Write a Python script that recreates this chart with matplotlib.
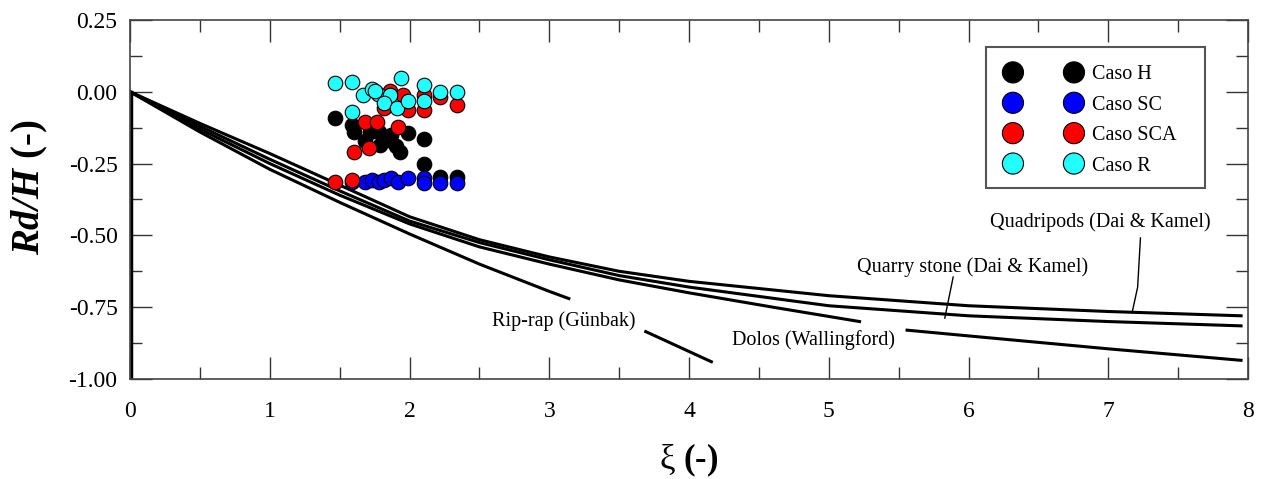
import numpy as np
import matplotlib
matplotlib.use('Agg')
from matplotlib import pyplot as plt
from matplotlib.patches import Rectangle
from matplotlib.ticker import MultipleLocator, FormatStrFormatter

plt.rcParams['font.family'] = ['Liberation Serif', 'DejaVu Serif']
plt.rcParams['mathtext.fontset'] = 'custom'
plt.rcParams['mathtext.rm'] = 'Liberation Serif'
plt.rcParams['mathtext.it'] = 'Liberation Serif:italic'
plt.rcParams['mathtext.bf'] = 'Liberation Serif:bold'
plt.rcParams['mathtext.bfit'] = 'Liberation Serif:italic:bold'

# curves; nan = gap in the drawn line
xi_quad = [0, 0.25, 0.5, 1, 1.5, 2, 2.5, 3, 3.5, 4, 5, 6, 7, 7.95]
rd_quad = [0, -0.055, -0.11, -0.215, -0.325, -0.435, -0.515, -0.575, -0.625, -0.66, -0.71, -0.745, -0.765, -0.78]
xi_quarry = [0, 0.25, 0.5, 1, 1.5, 2, 2.5, 3, 3.5, 4, 5, 6, 7, 7.95]
rd_quarry = [0, -0.06, -0.12, -0.235, -0.345, -0.45, -0.525, -0.585, -0.64, -0.68, -0.745, -0.78, -0.8, -0.815]
xi_dolos = [0, 0.25, 0.5, 1, 1.5, 2, 2.5, 3, 3.5, 4, 4.6, 5.22, 5.4, 5.56, 6, 7, 7.95]
rd_dolos = [0, -0.065, -0.13, -0.25, -0.36, -0.46, -0.54, -0.6, -0.655, -0.7, -0.75, -0.8, np.nan, -0.83, -0.85, -0.895, -0.935]
xi_rip = [0, 0.25, 0.5, 1, 1.5, 2, 2.5, 3, 3.14, 3.4, 3.69, 4.16]
rd_rip = [0, -0.07, -0.14, -0.27, -0.385, -0.495, -0.6, -0.695, -0.72, np.nan, -0.835, -0.94]

# measured points
h_x = [1.47, 1.59, 1.60, 1.72, 1.78, 1.87, 1.99, 2.10, 1.68, 1.79, 1.84, 1.90, 1.93, 2.10, 2.22, 2.34]
h_y = [-0.092, -0.116, -0.139, -0.139, -0.139, -0.150, -0.145, -0.165, -0.171, -0.185, -0.168, -0.188, -0.208, -0.253, -0.296, -0.296]
sc_x = [1.59, 1.68, 1.73, 1.78, 1.82, 1.87, 1.92, 1.99, 2.10, 2.10, 2.22, 2.34]
sc_y = [-0.315, -0.315, -0.307, -0.315, -0.307, -0.301, -0.313, -0.299, -0.299, -0.319, -0.319, -0.319]
sca_x = [1.86, 1.95, 2.10, 2.22, 2.34, 1.82, 1.99, 2.10, 1.68, 1.77, 1.92, 1.60, 1.71, 1.47, 1.59]
sca_y = [0.004, -0.011, -0.011, -0.017, -0.046, -0.057, -0.063, -0.063, -0.104, -0.104, -0.124, -0.208, -0.195, -0.315, -0.307]
r_x = [1.47, 1.59, 1.94, 2.10, 2.22, 2.34, 1.67, 1.73, 1.775, 1.86, 1.82, 1.91, 1.99, 2.10, 1.59, 1.75]
r_y = [0.032, 0.035, 0.047, 0.024, -0.002, -0.002, -0.011, 0.010, -0.009, -0.011, -0.038, -0.055, -0.031, -0.032, -0.069, 0.004]

fig = plt.figure(figsize=(12.65, 4.79), dpi=100)
ax = fig.add_axes([0.1028, 0.2088, 0.8838, 0.7495])

lw = 2.2
ax.plot([0.01, 0.01], [0, -1.0], color='black', lw=2.5)
ax.plot(xi_quad, rd_quad, color='black', lw=lw)
ax.plot(xi_quarry, rd_quarry, color='black', lw=lw)
ax.plot(xi_dolos, rd_dolos, color='black', lw=lw)
ax.plot(xi_rip, rd_rip, color='black', lw=lw)

ms = 110
ax.scatter(h_x, h_y, s=ms, c='black', edgecolors='black', linewidths=0.8, label='Caso H', zorder=3)
ax.scatter(sc_x, sc_y, s=ms, c='#0000ff', edgecolors='black', linewidths=0.8, label='Caso SC', zorder=3)
ax.scatter(sca_x, sca_y, s=ms, c='#ff0000', edgecolors='black', linewidths=0.8, label='Caso SCA', zorder=3)
ax.scatter(r_x, r_y, s=ms, c='#22ffff', edgecolors='black', linewidths=0.8, label='Caso R', zorder=3)

fs = 14.5
ax.text(6.94, -0.453, 'Quadripods (Dai & Kamel)', fontsize=fs, ha='center', va='center')
ax.plot([7.23, 7.21, 7.17], [-0.509, -0.68, -0.77], color='black', lw=1)
ax.text(6.03, -0.61, 'Quarry stone (Dai & Kamel)', fontsize=fs, ha='center', va='center')
ax.plot([5.89, 5.83], [-0.645, -0.788], color='black', lw=1)
ax.text(4.89, -0.864, 'Dolos (Wallingford)', fontsize=fs, ha='center', va='center')
ax.text(3.10, -0.80, 'Rip-rap (Günbak)', fontsize=fs, ha='center', va='center')

ax.set_xlim(0, 8)
ax.set_ylim(-1.0, 0.25)
ax.xaxis.set_major_locator(MultipleLocator(1))
ax.xaxis.set_minor_locator(MultipleLocator(0.5))
ax.yaxis.set_major_locator(MultipleLocator(0.25))
ax.yaxis.set_minor_locator(MultipleLocator(0.125))
ax.yaxis.set_major_formatter(FormatStrFormatter('%.2f'))
ax.tick_params(which='both', direction='in', top=True, right=True, color='#333333', width=1)
ax.tick_params(which='major', length=16)
ax.tick_params(which='minor', length=8.5)
ax.tick_params(axis='x', which='major', labelsize=17, pad=16)
ax.tick_params(axis='y', which='major', labelsize=17, pad=9)
for s in ax.spines.values():
    s.set_color('#444444')
    s.set_linewidth(1.2)

ax.set_xlabel(r'$\mathrm{\xi}$ (-)', fontsize=25, fontweight='bold', labelpad=14)
ax.set_ylabel(r'$\mathbfit{Rd/H}$ (-)', fontsize=28, fontweight='bold')
ax.yaxis.set_label_coords(-0.072, 0.535)

# legend: frame drawn separately so its size matches the reference box
ax.add_patch(Rectangle((0.7657, 0.532), 0.1959, 0.3928, transform=ax.transAxes,
                       facecolor='white', edgecolor='#555555', lw=1.5, zorder=4))
leg = ax.legend(loc='upper left', bbox_to_anchor=(0.7843, 0.8736), borderaxespad=0,
                borderpad=0, frameon=False, scatterpoints=2, scatteryoffsets=[0.5],
                markerscale=1.45, handlelength=3.63, handletextpad=0.59,
                labelspacing=0.56, fontsize=fs)
leg.set_zorder(5)

plt.savefig('out.png', dpi=100)
